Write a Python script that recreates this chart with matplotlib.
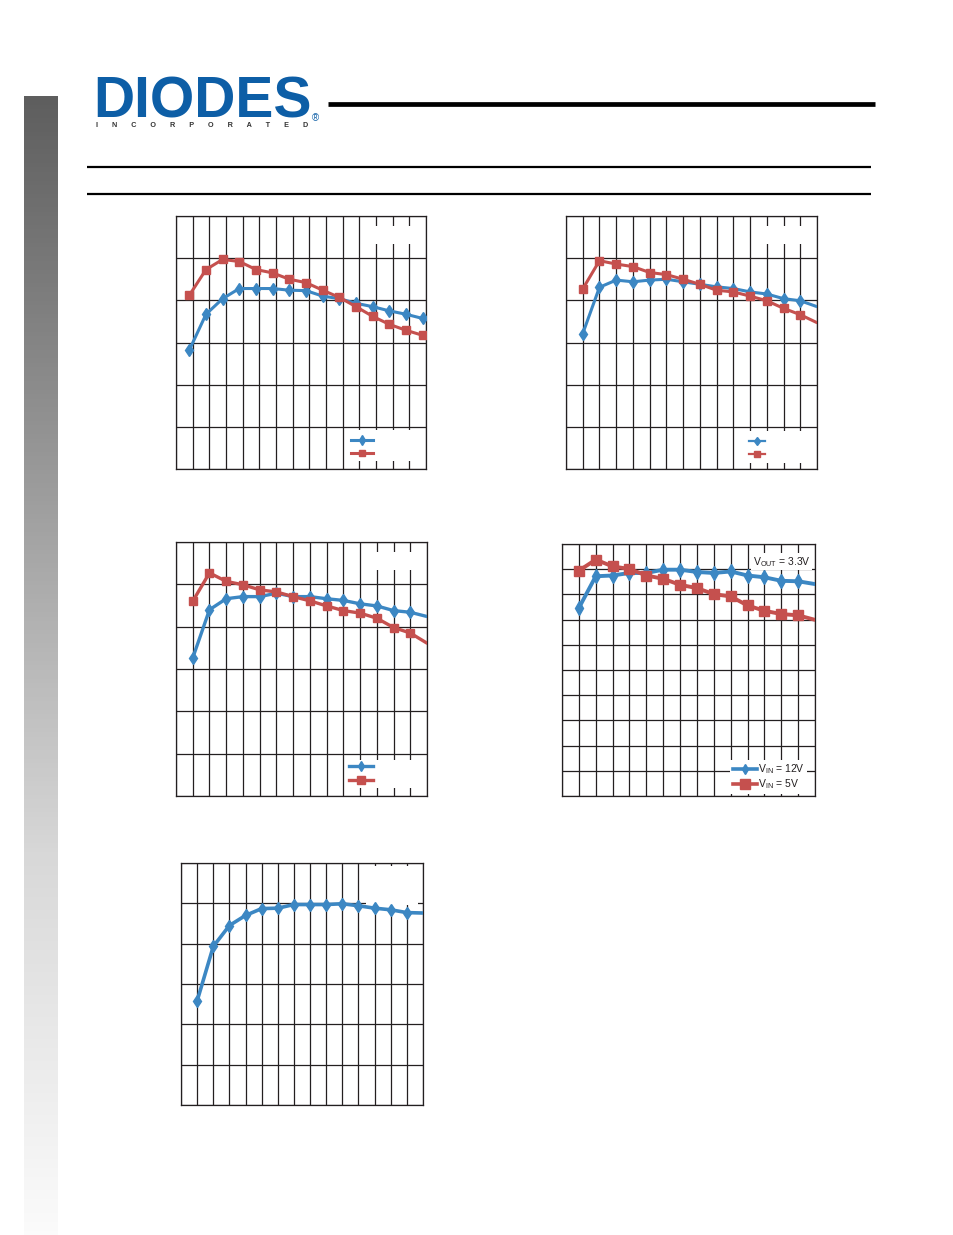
import numpy as np
import matplotlib
matplotlib.use("Agg")
import matplotlib.pyplot as plt
from matplotlib.patches import Rectangle
from matplotlib.lines import Line2D

plt.rcParams['font.family'] = ['Liberation Sans', 'DejaVu Sans']
plt.rcParams['mathtext.fontset'] = 'custom'
plt.rcParams['mathtext.rm'] = 'Liberation Sans'
plt.rcParams['mathtext.it'] = 'Liberation Sans'

# ---------------- data (efficiency %) ----------------
points = list(range(1, 16))  # category index of each load point

c1_blue = [68.2, 76.7, 80.4, 82.8, 82.8, 82.8, 82.4, 82.3, 81.0, 80.4, 79.3, 78.5, 77.5, 76.7, 75.7]
c1_red = [81.2, 87.3, 89.7, 89.2, 87.3, 86.5, 85.0, 84.2, 82.4, 80.7, 78.5, 76.2, 74.3, 72.9, 71.7]
c2_blue = [72.1, 83.1, 84.8, 84.4, 84.8, 85.0, 84.4, 83.8, 83.2, 82.8, 82.0, 81.5, 80.4, 79.9, 78.5]
c2_red = [82.7, 89.4, 88.6, 88.0, 86.6, 86.1, 85.0, 83.8, 82.4, 82.0, 81.0, 79.9, 78.1, 76.6, 74.7]
c3_blue = [72.6, 84.0, 86.6, 87.1, 87.1, 87.9, 87.1, 87.1, 86.6, 86.2, 85.4, 84.9, 83.8, 83.4, 82.4]
c3_red = [86.0, 92.7, 90.7, 89.9, 88.7, 88.2, 87.1, 86.1, 84.9, 83.8, 83.2, 82.0, 79.8, 78.5, 76.1]
c4_blue = [74.6, 87.2, 87.5, 88.5, 88.5, 89.8, 89.8, 88.9, 88.5, 89.1, 87.5, 86.8, 85.4, 85.2, 84.1]
c4_red = [89.4, 93.8, 91.1, 90.1, 87.5, 86.2, 83.8, 82.5, 80.1, 79.2, 75.6, 73.5, 72.2, 71.7, 69.9]
c5_blue = [65.8, 79.3, 84.5, 87.0, 88.7, 88.8, 89.7, 89.7, 89.7, 89.9, 89.4, 88.8, 88.4, 87.7, 87.6]

c4_labels = ["V$_{\\rm IN}$ = 12V", "V$_{\\rm IN}$ = 5V"]
c4_note = "V$_{\\rm OUT}$ = 3.3V"
logo_word = "DIODES"
logo_sub = "I       N       C       O       R       P       O       R       A       T       E       D"

BLUE = '#3c87c3'
RED = '#c5504e'
GRID = '#231f20'

W, H = 954, 1235
fig = plt.figure(figsize=(W / 100, H / 100), dpi=100)


def fx(x):
    return x / W


def fy(y):
    return 1 - y / H


def axes_px(l, t, r, b):
    return fig.add_axes([fx(l), fy(b), (r - l) / W, (b - t) / H])


# ---------------- page decoration ----------------
bg = fig.add_axes([fx(24), 0, 34 / W, (H - 96) / H])
grad = np.linspace(0, 1, 256).reshape(-1, 1)
bg.imshow(grad, aspect='auto', cmap=matplotlib.colors.LinearSegmentedColormap.from_list(
    'g', ['#5e5e5e', '#9a9a9a', '#d8d8d8', '#fbfbfb']), extent=[0, 1, 0, 1], origin='upper')
bg.axis('off')

fig.text(fx(93), fy(118), logo_word, fontsize=41, fontweight='bold', color='#0d5ea6',
         va='baseline', ha='left', family='Liberation Sans')
fig.add_artist(Line2D([fx(95), fx(222)], [fy(97), fy(97)], color='white', lw=1.4))
fig.text(fx(96), fy(127), logo_sub, fontsize=5.2, fontweight='bold', color='#333333',
         ha='left', va='baseline')
fig.text(fx(315), fy(121), "\u00ae", fontsize=7, color='#0d5ea6', ha='center', va='baseline')

fig.add_artist(Line2D([fx(328), fx(875)], [fy(104), fy(104)], color='black', lw=3.4,
                      solid_capstyle='butt'))
fig.add_artist(Line2D([fx(87), fx(871)], [fy(167), fy(167)], color='black', lw=1.6,
                      solid_capstyle='butt'))
fig.add_artist(Line2D([fx(87), fx(871)], [fy(193.5), fy(193.5)], color='black', lw=1.6,
                      solid_capstyle='butt'))


# ---------------- charts ----------------
def setup(ax, xlim, ylim, ystep):
    ax.set_xlim(*xlim)
    ax.set_ylim(*ylim)
    ax.set_xticks(np.arange(xlim[0], xlim[1] + 0.01, 1))
    ax.set_yticks(np.arange(ylim[0], ylim[1] + 0.01, ystep))
    ax.grid(True, color=GRID, lw=0.9)
    ax.tick_params(length=0, labelbottom=False, labelleft=False)
    for s in ax.spines.values():
        s.set_color(GRID)
        s.set_linewidth(0.9)
    ax.set_axisbelow(True)


def white_box(ax, x0, y0, x1, y1):
    ax.add_patch(Rectangle((x0, y0), x1 - x0, y1 - y0, transform=ax.transAxes,
                           facecolor='white', edgecolor='none', zorder=1.5))


def series(ax, x, y, color, marker, ms, lw, mark):
    ax.plot(x, y, color=color, lw=lw, marker=marker, ms=ms, markevery=mark,
            solid_capstyle='round', zorder=3)


def handle(color, marker, ms, lw):
    return Line2D([], [], color=color, lw=lw, marker=marker, ms=ms)


# chart 1
ax1 = axes_px(176, 216, 426, 469)
setup(ax1, (0.2, 15.2), (40, 100), 10)
series(ax1, points, c1_blue, BLUE, 'd', 6.5, 2.2, None)
series(ax1, points, c1_red, RED, 's', 5.5, 2.2, None)
white_box(ax1, 0.76, 0.889, 0.988, 0.96)
white_box(ax1, 0.68, 0.03, 0.988, 0.155)
ax1.legend([handle(BLUE, 'd', 5.5, 2.2), handle(RED, 's', 5, 2.2)], ['', ''],
           loc='upper left', bbox_to_anchor=(0.672, 0.162), frameon=False,
           handlelength=2.1, fontsize=7.5, labelspacing=0.3, borderpad=0.2, handletextpad=0)

# chart 2
ax2 = axes_px(566, 216, 817, 469)
setup(ax2, (0, 15), (40, 100), 10)
mark14 = list(range(14))
series(ax2, points, c2_blue, BLUE, 'd', 6.5, 2.2, mark14)
series(ax2, points, c2_red, RED, 's', 5.5, 2.2, mark14)
white_box(ax2, 0.76, 0.889, 0.988, 0.96)
white_box(ax2, 0.71, 0.025, 0.988, 0.15)
ax2.legend([handle(BLUE, 'd', 4.5, 1.6), handle(RED, 's', 4, 1.6)], ['', ''],
           loc='upper left', bbox_to_anchor=(0.70, 0.158), frameon=False,
           handlelength=1.5, fontsize=7.5, labelspacing=0.3, borderpad=0.2, handletextpad=0)

# chart 3
ax3 = axes_px(176, 542, 427, 796)
setup(ax3, (0, 15), (40, 100), 10)
series(ax3, points, c3_blue, BLUE, 'd', 6.5, 2.4, mark14)
series(ax3, points, c3_red, RED, 's', 6, 2.4, mark14)
white_box(ax3, 0.76, 0.89, 0.988, 0.96)
white_box(ax3, 0.68, 0.03, 0.988, 0.14)
ax3.legend([handle(BLUE, 'd', 5.5, 2.4), handle(RED, 's', 6, 2.4)], ['', ''],
           loc='upper left', bbox_to_anchor=(0.66, 0.162), frameon=False,
           handlelength=2.3, fontsize=7.5, labelspacing=0.3, borderpad=0.2, handletextpad=0)

# chart 4
ax4 = axes_px(562, 544, 815, 796)
setup(ax4, (0, 15), (0, 100), 10)
series(ax4, points, c4_blue, BLUE, 'd', 7, 2.8, mark14)
series(ax4, points, c4_red, RED, 's', 7, 2.8, mark14)
ax4.text(0.982, 0.93, c4_note, transform=ax4.transAxes, ha='right', va='center', fontsize=7.5,
         color='#231f20', bbox=dict(facecolor='white', edgecolor='none', pad=1.2), zorder=2)
lg4 = ax4.legend([handle(BLUE, 'd', 5.5, 2.6), handle(RED, 's', 6.5, 2.6)], c4_labels,
                 loc='lower right', bbox_to_anchor=(0.97, 0.008), frameon=True, fancybox=False,
                 facecolor='white', edgecolor='none', framealpha=1, handlelength=2.3,
                 fontsize=7.5, labelspacing=0.15, borderpad=0.25, handletextpad=0.1,
                 borderaxespad=0)
for t in lg4.get_texts():
    t.set_color('#231f20')

# chart 5
ax5 = axes_px(181, 863, 423, 1105)
setup(ax5, (0, 15), (40, 100), 10)
series(ax5, points, c5_blue, BLUE, 'd', 6.5, 2.6, mark14)
white_box(ax5, 0.765, 0.825, 0.98, 0.988)

fig.savefig('out.png', dpi=100)
